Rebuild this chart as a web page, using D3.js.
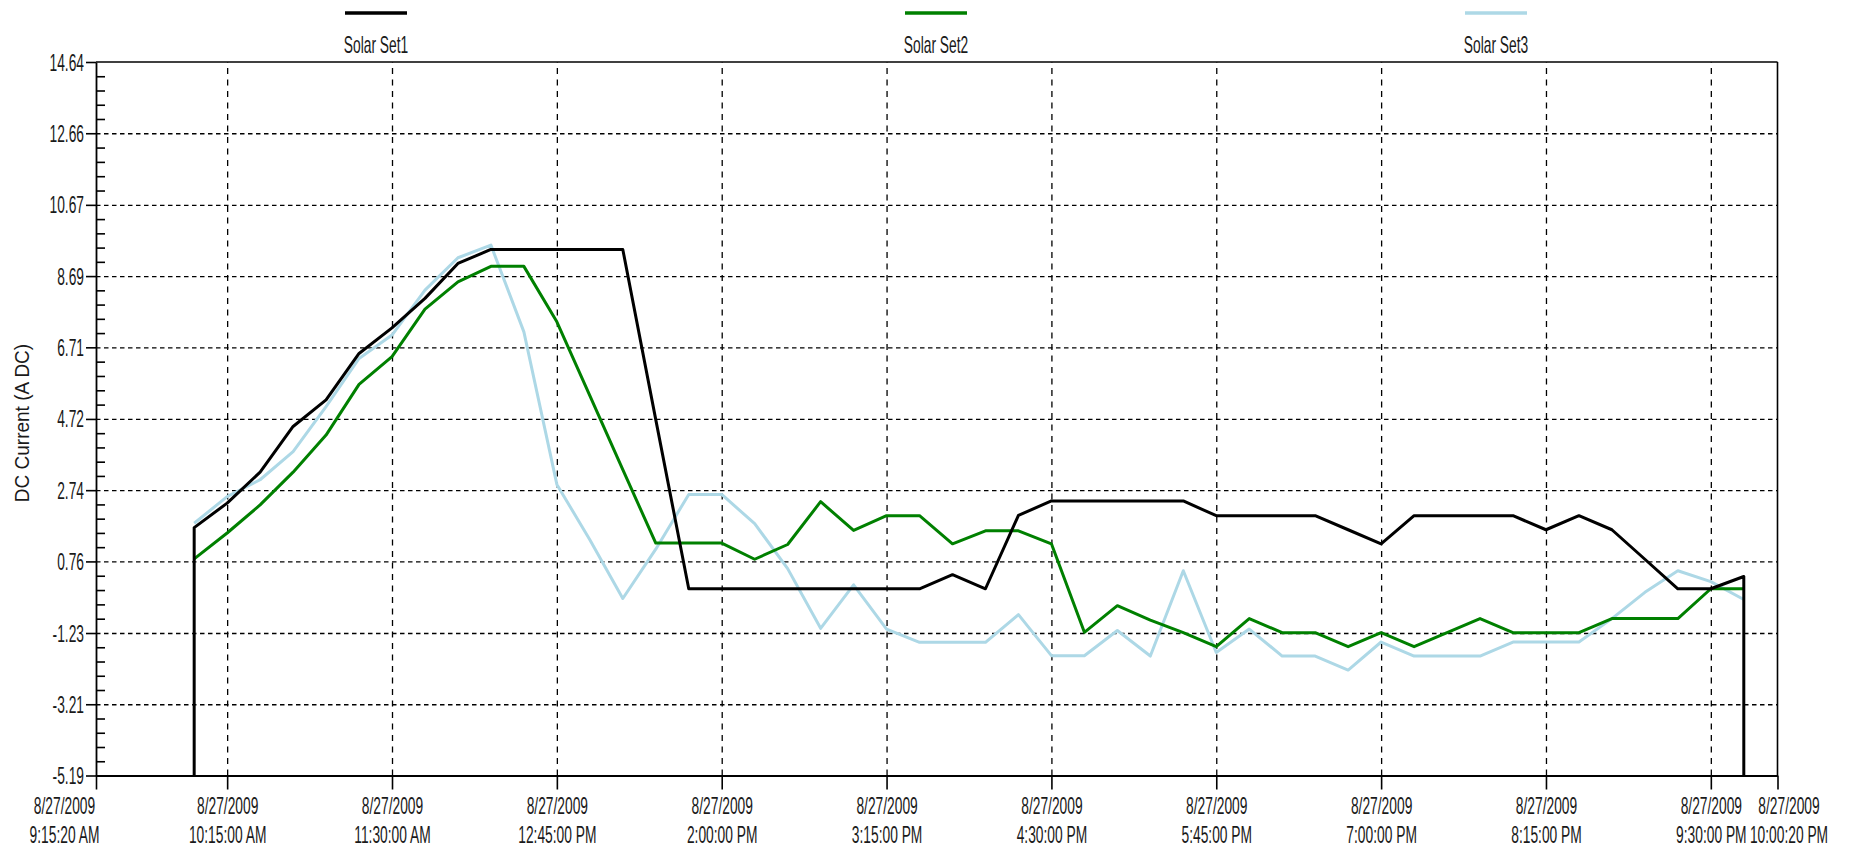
<!DOCTYPE html>
<html><head><meta charset="utf-8">
<script src="https://cdn.jsdelivr.net/npm/d3@7"></script>
<style>body{margin:0;background:#fff;} svg{display:block}</style>
</head><body><svg id="c" width="1850" height="849"></svg>
<script>
// ---- data ----
const times = ["10:00:00","10:15:00","10:30:00","10:45:00","11:00:00","11:15:00","11:30:00","11:45:00",
"12:00:00","12:15:00","12:30:00","12:45:00","13:00:00","13:15:00","13:30:00","13:45:00",
"14:00:00","14:15:00","14:30:00","14:45:00","15:00:00","15:15:00","15:30:00","15:45:00",
"16:00:00","16:15:00","16:30:00","16:45:00","17:00:00","17:15:00","17:30:00","17:45:00",
"18:00:00","18:15:00","18:30:00","18:45:00","19:00:00","19:15:00","19:30:00","19:45:00",
"20:00:00","20:15:00","20:30:00","20:45:00","21:00:00","21:15:00","21:30:00","21:45:00"];
const set1 = [1.70,2.38,3.24,4.51,5.25,6.54,7.25,8.07,9.04,9.43,9.43,9.43,9.43,9.43,4.70,0.00,
0.00,0.00,0.00,0.00,0.00,0.00,0.00,0.39,0.00,2.04,2.44,2.44,2.44,2.44,2.44,2.03,
2.03,2.03,2.03,1.64,1.25,2.03,2.03,2.03,2.03,1.64,2.03,1.64,0.82,0.00,0.00,0.34];
const set1Dropout = -5.19; // Set1 starts from and ends at the bottom of the scale
const set2 = [0.83,1.55,2.33,3.24,4.27,5.68,6.45,7.77,8.53,8.96,8.96,7.42,5.37,3.31,1.27,1.27,
1.27,0.82,1.23,2.42,1.62,2.03,2.03,1.25,1.61,1.61,1.25,-1.21,-0.47,-0.87,-1.22,-1.61,
-0.83,-1.22,-1.22,-1.61,-1.22,-1.61,-1.22,-0.83,-1.22,-1.22,-1.22,-0.83,-0.83,-0.83,0.00,0.00];
const set3 = [1.82,2.56,3.03,3.81,5.06,6.40,7.05,8.30,9.20,9.55,7.14,2.90,1.36,-0.27,1.10,2.62,
2.62,1.81,0.56,-1.10,0.11,-1.12,-1.49,-1.49,-1.49,-0.72,-1.86,-1.86,-1.16,-1.87,0.50,-1.77,
-1.12,-1.87,-1.87,-2.26,-1.48,-1.87,-1.87,-1.87,-1.48,-1.48,-1.48,-0.83,-0.10,0.50,0.20,-0.30];
const seriesNames = ["Solar Set1","Solar Set2","Solar Set3"];
const seriesColors = ["#000000","#008000","#add8e6"];
const xTickTimes = ["09:15:20","10:15:00","11:30:00","12:45:00","14:00:00","15:15:00","16:30:00",
"17:45:00","19:00:00","20:15:00","21:30:00","22:00:20"];
const xTickDate = "8/27/2009";
const xTickLabels = ["9:15:20 AM","10:15:00 AM","11:30:00 AM","12:45:00 PM","2:00:00 PM","3:15:00 PM",
"4:30:00 PM","5:45:00 PM","7:00:00 PM","8:15:00 PM","9:30:00 PM","10:00:20 PM"];
const yTickValues = [-5.19,-3.21,-1.23,0.76,2.74,4.72,6.71,8.69,10.67,12.66,14.64];
const yTickLabels = ["-5.19","-3.21","-1.23","0.76","2.74","4.72","6.71","8.69","10.67","12.66","14.64"];
const yTitle = "DC Current (A DC)";

// ---- layout ----
const L = 96, R = 1777.5, T = 62, B = 775.5;
const SX = 0.6, FS = 23, FONT = "'Liberation Sans', Arial, sans-serif", TXT = "#1a1a1a";
const FIRST_LABEL_SHIFT = -32, LAST_LABEL_SHIFT = 11; // end labels pushed outward like the original
const parse = d3.timeParse("%Y-%m-%d %H:%M:%S");
const pt = s => parse("2009-08-27 " + s);

const svg = d3.select("#c");
const x = d3.scaleTime().domain([pt(xTickTimes[0]), pt(xTickTimes[xTickTimes.length-1])]).range([L, R]);
const y = d3.scaleLinear().domain([yTickValues[0], yTickValues[yTickValues.length-1]]).range([B, T]);

// gridlines
const gx = svg.append("g").attr("transform", `translate(0,${B})`)
  .call(d3.axisBottom(x).tickValues(xTickTimes.slice(1,-1).map(pt)).tickSize(-(B-T)).tickFormat(""));
gx.select(".domain").remove();
gx.selectAll("line").attr("stroke","#000").attr("stroke-width",1.3).attr("stroke-dasharray","6,5.5");
const gy = svg.append("g").attr("transform", `translate(${L},0)`)
  .call(d3.axisLeft(y).tickValues(yTickValues.slice(1,-1)).tickSize(-(R-L)).tickFormat(""));
gy.select(".domain").remove();
gy.selectAll("line").attr("stroke","#000").attr("stroke-width",1.3).attr("stroke-dasharray","4.5,3.5");

// lines
svg.append("clipPath").attr("id","clip").append("rect").attr("x",L).attr("y",T-2).attr("width",R-L).attr("height",B-T+2);
const line = d3.line().x(d => x(d.t)).y(d => y(d.v));
const mk = arr => arr.map((v,i) => ({t: pt(times[i]), v}));
const s1 = [{t: pt(times[0]), v: set1Dropout}].concat(mk(set1)).concat([{t: pt(times[times.length-1]), v: set1Dropout}]);
const series = [s1, mk(set2), mk(set3)];
const plot = svg.append("g").attr("clip-path","url(#clip)");
[2,1,0].forEach(i => {
  plot.append("path").datum(series[i]).attr("d", line).attr("fill","none")
    .attr("stroke", seriesColors[i]).attr("stroke-width", 3).attr("stroke-linejoin","round");
});

// border top / right
svg.append("line").attr("x1",L).attr("x2",R).attr("y1",T).attr("y2",T).attr("stroke","#000").attr("stroke-width",1.6);
svg.append("line").attr("x1",R).attr("x2",R).attr("y1",T).attr("y2",B).attr("stroke","#000").attr("stroke-width",1.6);

// y axis
const ya = svg.append("g").attr("transform", `translate(${L},0)`)
  .call(d3.axisLeft(y).tickValues(yTickValues).tickSize(10).tickSizeOuter(0).tickFormat((d,i)=>yTickLabels[i]));
ya.select(".domain").attr("stroke","#000").attr("stroke-width",1.8);
ya.selectAll("line").attr("stroke","#000").attr("stroke-width",1.6);
ya.selectAll("text").attr("x",0).attr("dy","0.35em").attr("transform",`translate(-12,0) scale(${SX},1)`)
  .attr("font-family",FONT).attr("font-size",FS).attr("fill",TXT);
// minor ticks
const minor = [];
for (let i = 0; i < yTickValues.length-1; i++)
  for (let j = 1; j < 5; j++) minor.push(yTickValues[i] + j*(yTickValues[i+1]-yTickValues[i])/5);
const ym = svg.append("g").attr("transform", `translate(${L},0)`)
  .call(d3.axisRight(y).tickValues(minor).tickSize(9).tickSizeOuter(0).tickFormat(""));
ym.select(".domain").remove();
ym.selectAll("line").attr("stroke","#000").attr("stroke-width",1.6);

// x axis
const xa = svg.append("g").attr("transform", `translate(0,${B})`)
  .call(d3.axisBottom(x).tickValues(xTickTimes.map(pt)).tickSize(14).tickSizeOuter(0).tickFormat(""));
xa.select(".domain").attr("stroke","#000").attr("stroke-width",1.8);
xa.selectAll("line").attr("stroke","#000").attr("stroke-width",1.6);
const nT = xTickTimes.length;
xa.selectAll(".tick").each(function(d,i){
  const g = d3.select(this);
  g.select("text").remove();
  const dx = i === 0 ? FIRST_LABEL_SHIFT : (i === nT-1 ? LAST_LABEL_SHIFT : 0);
  const t = g.append("text").attr("transform",`translate(${dx},0) scale(${SX},1)`).attr("text-anchor","middle")
    .attr("font-family",FONT).attr("font-size",FS).attr("fill",TXT);
  t.append("tspan").attr("x",0).attr("y",38.5).text(xTickDate);
  t.append("tspan").attr("x",0).attr("y",67.5).text(xTickLabels[i]);
});

// y title
svg.append("text").attr("transform","translate(29,423) rotate(-90) scale(0.95,1)")
  .attr("text-anchor","middle").attr("font-family",FONT).attr("font-size",20).attr("fill",TXT).text(yTitle);

// legend
const leg = svg.append("g");
seriesNames.forEach((n,i) => {
  const cx = 376 + 560*i;
  leg.append("line").attr("x1",cx-31).attr("x2",cx+31).attr("y1",13).attr("y2",13)
    .attr("stroke",seriesColors[i]).attr("stroke-width",3.5);
  leg.append("text").attr("transform",`translate(${cx},52.5) scale(${SX},1)`).attr("text-anchor","middle")
    .attr("font-family",FONT).attr("font-size",FS).attr("fill",TXT).text(n);
});
</script></body></html>
